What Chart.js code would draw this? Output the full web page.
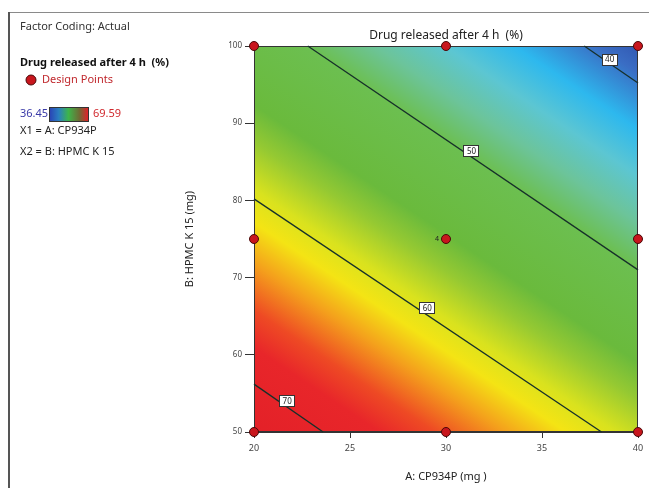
<!DOCTYPE html>
<html>
<head>
<meta charset="utf-8">
<script src="https://cdn.jsdelivr.net/npm/chart.js@4"></script>
<style>
html,body{margin:0;padding:0;background:#fff;}
#wrap{width:649px;height:488px;position:relative;}
</style>
</head>
<body>
<div id="wrap"><canvas id="c" width="649" height="488"></canvas></div>
<script>
// ---- data ----
const designA = [20, 30, 40, 20, 30, 40, 20, 30, 40];
const designB = [100, 100, 100, 75, 75, 75, 50, 50, 50];
const centerReplicates = ['', '', '', '', '4', '', '', '', ''];

const contourLevels = [40, 50, 60, 70];
const contourStartA = [37.2, 22.8, 20.0, 20.0];
const contourStartB = [100, 100, 80.2, 56.2];
const contourEndA = [40, 40, 38.1, 23.6];
const contourEndB = [95.2, 71.0, 50, 50];
const contourLabelA = [38.5, 31.3, 29.0, 21.7];
const contourLabelB = [98.3, 86.4, 66.1, 54.1];

// colour map: response value -> colour
const colorValues = [36.5, 39.5, 42.5, 45, 47.5, 50, 55, 57, 59.5, 61.3, 63.5, 66, 68, 74];
const colorHex = ['#2944a0', '#3a6dc4', '#2db8ee', '#5cc6d2', '#6cc49a', '#6cbf50', '#6aba3c', '#95c932', '#d9e21e', '#f4e414', '#f4a01c', '#ee4a24', '#e8262a', '#e21f27'];

const legendMin = 36.45, legendMax = 69.59;
const xTicks = [20, 25, 30, 35, 40];
const yTicks = [50, 60, 70, 80, 90, 100];

const FONT = "'Noto Sans', 'DejaVu Sans', sans-serif";

const contourDatasets = contourLevels.map((lv, i) => ({
  type: 'line',
  label: 'contour ' + lv,
  data: [{x: contourStartA[i], y: contourStartB[i]}, {x: contourEndA[i], y: contourEndB[i]}],
  borderColor: '#16302a',
  borderWidth: 1.3,
  pointRadius: 0,
  fill: false,
  clip: false,
  order: 2
}));

const pointsDataset = {
  type: 'scatter',
  label: 'Design Points',
  data: designA.map((a, i) => ({x: a, y: designB[i]})),
  backgroundColor: '#c8161d',
  borderColor: '#4a0808',
  borderWidth: 1,
  pointRadius: 4.5,
  clip: false,
  order: 1
};

const surfacePlugin = {
  id: 'surface',
  beforeDraw(chart) {
    const {ctx, chartArea: ca, scales: {x, y}} = chart;
    const P = contourLevels.map((lv, i) => ({
      x1: x.getPixelForValue(contourStartA[i]), y1: y.getPixelForValue(contourStartB[i]),
      x2: x.getPixelForValue(contourEndA[i]), y2: y.getPixelForValue(contourEndB[i])
    }));
    const ref = P[2];
    let dx = ref.x2 - ref.x1, dy = ref.y2 - ref.y1;
    const len = Math.hypot(dx, dy);
    const nx = -dy / len, ny = dx / len;
    const ox = (ref.x1 + ref.x2) / 2, oy = (ref.y1 + ref.y2) / 2;
    const d = P.map(p => ((p.x1 + p.x2) / 2 - ox) * nx + ((p.y1 + p.y2) / 2 - oy) * ny);
    const n = d.length;
    const md = d.reduce((s, v) => s + v, 0) / n;
    const mv = contourLevels.reduce((s, v) => s + v, 0) / n;
    let sxy = 0, sxx = 0;
    for (let i = 0; i < n; i++) { sxy += (d[i] - md) * (contourLevels[i] - mv); sxx += (d[i] - md) ** 2; }
    const b = sxy / sxx, a = mv - b * md;
    const vmin = colorValues[0], vmax = colorValues[colorValues.length - 1];
    const dmin = (vmin - a) / b, dmax = (vmax - a) / b;
    const g = ctx.createLinearGradient(ox + nx * dmin, oy + ny * dmin, ox + nx * dmax, oy + ny * dmax);
    colorValues.forEach((v, i) => g.addColorStop((v - vmin) / (vmax - vmin), colorHex[i]));
    ctx.save();
    ctx.strokeStyle = '#8a8a8a';
    ctx.lineWidth = 1;
    ctx.beginPath(); ctx.moveTo(9, 12.5); ctx.lineTo(649, 12.5); ctx.stroke();
    ctx.strokeStyle = '#555';
    ctx.lineWidth = 2;
    ctx.beginPath(); ctx.moveTo(9, 12); ctx.lineTo(9, 488); ctx.stroke();
    ctx.fillStyle = g;
    ctx.fillRect(ca.left, ca.top, ca.right - ca.left, ca.bottom - ca.top);
    ctx.strokeStyle = '#333';
    ctx.lineWidth = 1;
    ctx.strokeRect(ca.left + 0.5, ca.top + 0.5, ca.right - ca.left - 1, ca.bottom - ca.top - 1);
    ctx.restore();
  },
  afterDatasetsDraw(chart) {
    const {ctx, scales: {x, y}} = chart;
    ctx.save();
    ctx.font = '8px ' + FONT;
    ctx.textAlign = 'center';
    ctx.textBaseline = 'middle';
    contourLevels.forEach((lv, i) => {
      const px = x.getPixelForValue(contourLabelA[i]);
      const py = y.getPixelForValue(contourLabelB[i]);
      const w = 15, h = 11;
      ctx.fillStyle = '#fff';
      ctx.fillRect(Math.round(px - w / 2) + 0.5, Math.round(py - h / 2) + 0.5, w, h);
      ctx.strokeStyle = '#333';
      ctx.lineWidth = 1;
      ctx.strokeRect(Math.round(px - w / 2) + 0.5, Math.round(py - h / 2) + 0.5, w, h);
      ctx.fillStyle = '#222';
      ctx.fillText(String(lv), px + 0.5, py + 1);
    });
    ctx.font = '7px ' + FONT;
    ctx.textAlign = 'right';
    centerReplicates.forEach((t, i) => {
      if (!t) return;
      ctx.fillStyle = '#222';
      ctx.fillText(t, x.getPixelForValue(designA[i]) - 7, y.getPixelForValue(designB[i]));
    });
    ctx.restore();
  },
  afterDraw(chart) {
    const {ctx, chartArea: ca} = chart;
    const cx = (ca.left + ca.right) / 2;
    ctx.save();
    ctx.textBaseline = 'middle';
    ctx.fillStyle = '#222';
    ctx.font = '12px ' + FONT;
    ctx.textAlign = 'center';
    ctx.fillText('Drug released after 4 h  (%)', cx, 36);
    ctx.font = '11px ' + FONT;
    ctx.fillText('A: CP934P (mg )', cx, 477);
    ctx.save();
    ctx.translate(190, (ca.top + ca.bottom) / 2);
    ctx.rotate(-Math.PI / 2);
    ctx.fillText('B: HPMC K 15 (mg)', 0, 0);
    ctx.restore();
    ctx.textAlign = 'left';
    ctx.font = '11px ' + FONT;
    ctx.fillStyle = '#333';
    ctx.fillText('Factor Coding: Actual', 20, 27);
    ctx.font = 'bold 11px ' + FONT;
    ctx.fillStyle = '#111';
    ctx.fillText('Drug released after 4 h  (%)', 20, 63);
    ctx.beginPath(); ctx.arc(31, 80, 5, 0, Math.PI * 2);
    ctx.fillStyle = '#c8161d'; ctx.fill();
    ctx.strokeStyle = '#4a0808'; ctx.lineWidth = 1; ctx.stroke();
    ctx.font = '11px ' + FONT;
    ctx.fillStyle = '#c0282d';
    ctx.fillText('Design Points', 42, 80);
    ctx.fillStyle = '#3a3aa8';
    ctx.fillText(legendMin.toFixed(2), 20, 114);
    const gb = ctx.createLinearGradient(49, 0, 88, 0);
    gb.addColorStop(0, '#2a3fb5');
    gb.addColorStop(0.25, '#2a7fc0');
    gb.addColorStop(0.5, '#3db54a');
    gb.addColorStop(0.78, '#6f6a34');
    gb.addColorStop(1, '#e0202a');
    ctx.fillStyle = gb;
    ctx.fillRect(49, 107, 39, 14);
    ctx.strokeStyle = '#333';
    ctx.strokeRect(49.5, 107.5, 39, 14);
    ctx.fillStyle = '#d0282d';
    ctx.fillText(legendMax.toFixed(2), 93, 114);
    ctx.fillStyle = '#222';
    ctx.fillText('X1 = A: CP934P', 20, 131);
    ctx.fillText('X2 = B: HPMC K 15', 20, 152);
    ctx.restore();
  }
};

new Chart(document.getElementById('c'), {
  data: { datasets: [...contourDatasets, pointsDataset] },
  options: {
    responsive: false,
    animation: false,
    events: [],
    layout: { padding: { left: 0, top: 46, right: 11, bottom: 0 } },
    plugins: { legend: { display: false }, tooltip: { enabled: false }, title: { display: false } },
    scales: {
      x: {
        type: 'linear', min: xTicks[0], max: xTicks[xTicks.length - 1],
        afterFit(s) { s.height = 56; },
        afterBuildTicks(s) { s.ticks = xTicks.map(v => ({value: v})); },
        grid: { drawOnChartArea: false, color: '#333', tickLength: 6 },
        border: { display: true, color: '#333' },
        ticks: { font: { size: 9, family: FONT }, color: '#444', padding: 5, maxRotation: 0 }
      },
      y: {
        type: 'linear', min: yTicks[0], max: yTicks[yTicks.length - 1],
        afterFit(s) { s.width = 254; },
        afterBuildTicks(s) { s.ticks = yTicks.map(v => ({value: v})); },
        grid: { drawOnChartArea: false, color: '#333', tickLength: 9 },
        border: { display: true, color: '#333' },
        ticks: { font: { size: 8, family: FONT }, color: '#444', padding: 3 }
      }
    }
  },
  plugins: [surfacePlugin]
});
</script>
</body>
</html>
